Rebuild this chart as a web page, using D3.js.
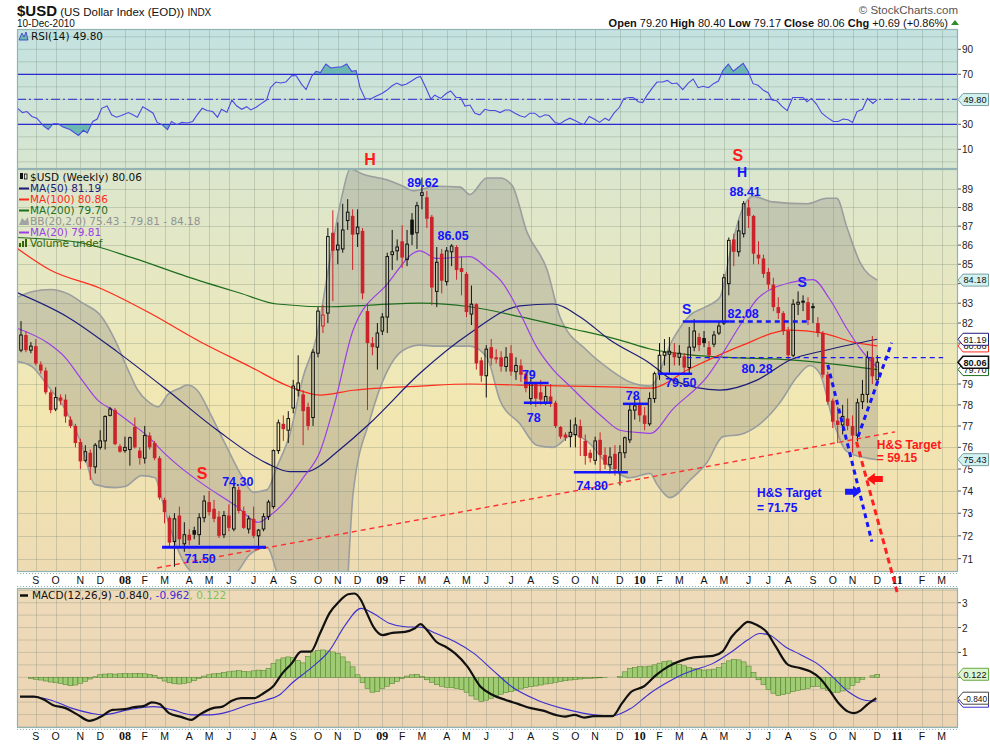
<!DOCTYPE html>
<html>
<head>
<meta charset="utf-8">
<script src="https://d3js.org/d3.v7.min.js"></script>
<style>
  body { margin: 0; background: #fff; }
  svg { display: block; }
  text { font-family: "Liberation Sans", Arial, sans-serif; }
  .leg { font-family: "DejaVu Sans", sans-serif; font-size: 10.5px; }
</style>
</head>
<body>
<div id="chart"></div>
<script>
// ---- weekly candles, Aug 17 2007 .. Dec 10 2010 (174 weeks) ----
const openV = [80.65,81.4,80.65,80.85,79.95,79.65,78.6,77.8,78.35,78.25,
 77.3,77.0,76.25,75.4,75.75,75.1,76.0,76.3,77.5,77.75,
 76.05,75.85,75.9,76.95,75.85,75.5,76.55,76.2,75.5,73.6,
 72.8,71.75,72.9,71.65,72.05,72.25,72.05,72.8,73.5,73.2,
 72.85,72.05,72.9,72.3,74.05,73.1,72.3,72.75,72.0,72.3,
 72.85,73.3,75.85,77.1,76.8,77.85,78.7,78.5,77.9,77.4,
 80.5,81.85,82.5,86.65,85.75,85.8,87.3,87.55,86.6,86.75,
 82.6,81.0,80.8,81.6,82.3,85.5,85.7,86.2,85.25,87.35,
 86.65,88.65,88.55,87.5,83.6,85.55,84.1,85.65,85.9,84.8,
 84.5,82.45,82.95,80.15,79.4,80.8,80.3,80.3,79.85,80.5,
 79.6,79.9,79.5,78.3,79.0,78.6,78.1,78.4,78.1,76.95,
 76.6,76.5,76.6,77.0,76.3,75.75,75.4,76.35,75.65,75.2,
 75.7,74.85,75.75,76.35,77.75,78.0,77.5,77.1,78.3,79.5,
 80.4,80.45,80.55,80.3,80.35,79.8,80.8,81.3,81.25,80.8,
 80.95,81.5,82.0,84.0,86.3,85.65,86.6,88.0,87.55,85.5,
 85.3,84.6,83.95,82.8,82.5,81.6,80.4,82.95,83.05,83.05,
 82.85,82.0,81.5,79.45,78.2,77.25,77.05,77.35,77.0,76.55,
 78.15,78.5,80.3,79.2];
const highV = [82.1,81.6,81.05,81.2,80.1,79.8,78.7,78.85,78.5,78.5,
 77.45,77.1,76.4,76.1,75.9,76.2,76.8,77.5,77.9,77.85,
 76.15,76.5,76.5,77.4,76.0,77.0,76.7,76.3,75.6,73.7,
 72.9,73.0,73.3,72.6,72.3,72.4,73.0,73.8,74.0,73.6,
 73.1,73.1,73.4,74.3,74.2,73.3,72.9,73.3,72.3,73.0,
 73.6,75.9,77.3,77.5,77.7,79.2,80.4,78.7,78.1,80.7,
 82.8,82.9,86.9,87.85,87.2,88.2,88.45,87.9,87.9,86.9,
 83.0,81.3,82.0,82.5,85.6,86.8,86.3,87.05,86.8,87.7,
 88.3,89.62,88.9,87.6,85.9,85.8,85.9,86.05,86.0,85.4,
 84.6,83.9,83.0,80.3,80.9,81.2,80.7,80.6,80.8,80.9,
 80.3,80.2,79.6,79.3,79.1,79.2,78.9,79.0,78.2,77.0,
 76.7,77.3,77.4,77.3,76.6,75.9,76.5,76.7,76.0,76.0,
 76.1,76.1,76.5,78.0,78.4,78.3,77.9,78.6,79.6,81.0,
 81.2,81.3,81.0,80.9,80.5,81.8,82.2,81.5,81.6,81.1,
 81.6,82.1,84.5,86.4,86.6,87.3,88.35,88.41,87.6,86.2,
 85.5,84.8,84.3,83.3,82.6,81.8,83.2,83.6,83.4,83.3,
 83.0,82.3,81.6,79.6,78.3,77.9,78.0,78.3,77.5,78.3,
 79.2,80.6,81.35,80.4];
const lowV = [80.55,80.55,80.5,79.9,79.5,78.5,77.6,77.7,78.0,77.15,
 76.9,76.0,75.0,75.3,74.5,74.8,75.9,75.9,77.45,76.1,
 75.75,75.75,75.15,75.95,75.2,75.25,75.9,75.4,73.6,72.55,
 71.55,70.65,71.5,71.3,71.6,71.85,71.6,72.6,72.9,72.6,
 71.9,71.9,72.2,72.2,73.0,72.3,72.1,71.9,71.4,72.2,
 72.7,73.2,75.7,76.3,76.2,77.6,78.4,76.1,76.8,77.0,
 80.3,81.5,82.0,83.1,85.0,85.6,86.8,84.7,85.9,83.2,
 77.75,80.4,79.7,81.4,81.5,84.7,85.2,84.8,84.9,86.0,
 85.8,87.9,86.9,82.9,82.8,83.5,83.9,84.9,84.2,83.4,
 82.3,81.9,79.7,79.1,78.35,79.9,80.0,79.6,79.6,79.4,
 79.2,79.1,78.6,78.0,77.9,78.0,78.0,77.9,76.9,76.4,
 76.3,76.0,76.0,75.6,75.2,75.3,75.2,74.9,75.0,74.8,
 74.7,74.25,75.5,76.2,77.3,77.2,76.8,77.0,78.1,79.2,
 79.9,79.5,79.9,79.9,79.5,79.5,80.6,80.6,80.8,80.2,
 80.8,81.4,81.9,83.4,84.9,85.4,86.4,86.9,85.0,85.0,
 84.3,83.7,82.6,82.2,81.4,80.2,80.3,82.4,82.6,81.9,
 82.0,81.3,79.3,78.0,76.9,76.2,76.6,76.8,75.75,76.3,
 77.8,78.1,79.0,79.17];
const closeV = [81.4,80.65,80.85,80.0,79.65,78.6,77.75,78.35,78.2,77.45,
 77.0,76.2,75.35,75.8,75.1,76.1,76.3,77.45,77.8,76.15,
 75.8,76.0,76.45,76.0,75.5,76.55,76.0,75.5,73.7,73.05,
 71.7,72.75,71.85,72.05,71.8,72.05,72.8,73.55,73.05,72.75,
 72.0,72.9,72.35,74.15,73.1,72.35,72.75,72.0,72.25,72.85,
 73.5,75.85,77.15,76.85,77.35,78.9,79.05,77.7,77.0,80.55,
 82.6,82.4,86.45,85.7,86.0,86.8,87.75,86.55,86.95,83.5,
 81.0,80.8,81.5,82.3,85.4,85.65,85.9,85.35,86.05,86.55,
 88.1,88.8,87.4,83.8,85.1,84.15,85.7,85.95,84.7,84.6,
 82.55,82.95,80.0,79.4,80.7,80.25,80.2,79.85,80.3,79.6,
 79.9,79.45,78.8,79.05,78.3,78.25,78.4,78.05,77.0,76.5,
 76.45,76.7,77.05,76.45,75.6,75.5,76.3,75.65,75.2,75.55,
 75.0,75.75,76.45,77.75,77.95,77.5,77.1,78.3,79.5,80.4,
 80.55,80.6,80.3,80.5,79.8,80.8,81.6,80.9,81.0,80.4,
 81.4,81.85,84.3,86.25,85.65,86.75,88.2,87.55,85.55,85.3,
 84.5,83.95,82.8,82.5,81.6,80.4,82.95,83.05,83.1,82.15,
 82.75,81.5,79.45,78.15,77.2,77.05,77.45,77.0,76.55,78.1,
 78.5,80.3,79.37,80.06];

// ---- overlays: [week index, value] ----
const ma50 = [[-0.8,83.54],[9.3,82.32],[19.4,80.58],[29.5,78.71],[39.6,76.81],[49.7,75.26],[54.3,74.88],
 [57.8,74.88],[60.4,75.15],[63.4,75.7],[70.5,77.13],[80.6,79.52],[90.7,81.49],[100.8,82.86],[107.5,82.96],
 [112.9,82.32],[119,81.15],[127.1,80.0],[131.7,79.19],[141.2,78.71],[148.7,79.19],[155.4,80.17],[162.8,80.66],[173,81.19]];
const ma100 = [[-0.8,85.83],[5.9,84.7],[16,83.76],[26.1,82.49],[36.2,81.07],[46.3,79.84],[54.3,78.87],[60.4,78.47],
 [67.1,78.7],[80.6,78.9],[90.7,79.0],[100.8,78.95],[110.9,78.9],[121,78.85],[127.1,78.8],[135.2,79.75],
 [145.3,80.85],[155.4,81.65],[162,81.5],[168.1,81.05],[173,80.86]];
const ma200 = [[-0.8,86.4],[11.5,86.15],[22.6,85.33],[33.5,84.36],[44.2,83.52],[51.7,82.96],[62.4,82.82],
 [80.6,83.0],[90.7,82.82],[100.8,82.32],[110.9,81.74],[121,81.15],[127.1,80.71],[135.2,80.42],
 [145.3,80.27],[155.4,80.17],[165.5,79.93],[173,79.7]];
const ma20 = [[-0.8,81.74],[5.45,81.0],[8.9,80.3],[12.3,79.2],[15.6,78.2],[19.0,77.7],[22.4,77.1],[25.7,76.5],
 [29.1,75.7],[32.1,75.1],[36.8,74.3],[43.6,73.3],[47.9,72.6],[50.3,72.9],[53.7,73.6],[57,74.6],[60.4,75.8],
 [63.4,78.1],[67.1,81.65],[73.9,83.95],[80.6,85.7],[84,85.3],[90.7,85.4],[94.1,84.8],[97.4,84.0],[100.8,82.5],
 [104.2,80.8],[107.5,79.7],[110.9,78.9],[114.3,78.1],[117.6,77.4],[121,76.8],[124.4,76.7],[127.1,76.65],
 [131.7,77.8],[138.6,79.35],[145.3,81.9],[148.7,83.2],[155.4,84.05],[160,84.2],[163.4,83.2],[166.9,81.7],
 [170.1,80.55],[173,79.81]];
const bbUpper = [[-0.8,83.3],[2.4,83.6],[5.9,83.7],[9.3,83.5],[12.5,83.0],[16,82.4],[19,81.15],[21.6,79.7],
 [23.6,78.7],[25.7,78.15],[27.7,77.9],[29.7,78.5],[32.1,78.8],[33.5,78.95],[35.6,78.7],[38.2,77.6],[41.6,76.0],
 [44.8,74.6],[46.9,73.95],[49.7,74.05],[51.7,75.1],[54.3,76.6],[57,79.35],[59.8,81.4],[61.8,84.3],[63.4,86.7],
 [65,88.8],[66.5,90.1],[69.1,89.8],[73.9,89.5],[77.2,89.15],[79.2,88.9],[84,89.15],[88.7,89.1],[90.7,88.7],
 [94.1,89.6],[96.8,89.6],[99.2,89.2],[102.2,86.7],[106.3,84.7],[108.9,82.3],[114.3,80.65],[119,79.7],
 [123,79.1],[127.1,78.9],[131.7,81.2],[135.2,82.4],[138.2,82.8],[141.2,83.3],[143.2,85.5],[145.3,87.6],
 [147.9,88.6],[151.9,88.3],[158.8,88.2],[162.8,88.5],[164.8,88.5],[166.9,86.9],[169.5,85.1],[173,84.18]];
const bbLower = [[-0.8,80.1],[2.2,79.85],[5.45,78.9],[8.9,77.8],[12.3,76.1],[14.9,74.3],[19,74.15],[21,74.2],
 [24.4,74.7],[27.1,74.6],[28.5,73.6],[30.5,72.1],[32.1,71.2],[34.1,70.5],[36.2,70.3],[42.8,70.3],[46.3,71.2],
 [49.7,71.5],[51.7,70.4],[54.3,68.6],[58.3,66.5],[62.4,65.5],[65.5,68.5],[67.1,73.9],[70.5,77.3],[77.2,80.65],
 [80.6,80.9],[84,80.85],[90.7,80.85],[94.1,80.3],[96.8,78.2],[100.8,77.1],[104.2,76.1],[107.5,76.0],[111.5,76.6],
 [114.3,76.3],[119,75.1],[123,74.6],[127.1,74.8],[128.5,74.3],[131.1,73.7],[135.2,74.5],[138.6,75.3],
 [141.8,76.5],[145.3,76.6],[149.3,77.1],[153.3,78.1],[156.8,79.35],[159.4,79.9],[161.4,79.5],[164,77.3],
 [166.9,75.8],[170.9,75.5],[173,75.43]];

const rsi = [[-0.9,43.6],[0.3,39.4],[1.2,40.2],[2.2,36.3],[3.2,34.9],[4.5,28.9],[5.5,25.8],[6.5,30.5],[7.5,30.5],
 [8.5,27.9],[9.9,25.8],[11.6,21.1],[12.6,25.2],[13.4,23.1],[14.5,32.3],[15.4,34.2],[16.3,42.8],[17.4,44.6],
 [18.3,37.6],[19.3,35.7],[20.3,37.0],[21.7,39.4],[22.6,37.6],[23.5,35.7],[24.6,44.1],[25.7,41.5],[26.7,38.9],
 [27.5,31.5],[28.5,29.7],[29.6,25.8],[30.4,32.3],[31.5,29.7],[32.5,31.5],[33.6,31.0],[34.7,32.3],[35.6,37.6],
 [36.6,42.8],[37.6,41.0],[38.7,40.2],[39.7,35.7],[40.5,42.0],[41.6,39.6],[42.6,49.4],[43.6,44.6],[44.6,42.0],
 [45.6,44.1],[46.4,41.5],[47.5,43.6],[48.6,46.7],[49.6,49.4],[50.4,59.3],[51.5,63.8],[52.5,63.0],[53.5,63.8],
 [54.7,69.0],[55.6,68.8],[56.7,62.0],[57.6,57.8],[58.7,68.3],[59.6,72.4],[60.5,71.4],[61.6,78.2],[62.6,75.1],
 [63.6,75.6],[64.8,76.1],[65.8,78.2],[66.8,72.4],[67.7,73.0],[68.5,59.3],[69.5,50.7],[70.6,50.2],[71.7,52.5],
 [72.9,54.6],[73.9,57.2],[74.9,60.6],[75.9,63.0],[76.9,61.2],[77.8,62.0],[78.9,64.6],[79.9,67.2],[80.7,68.3],
 [81.8,59.3],[82.8,50.2],[83.6,53.3],[84.8,50.7],[85.9,54.6],[86.8,56.7],[87.9,51.5],[88.8,51.5],[89.7,44.6],
 [90.7,45.4],[91.7,38.9],[92.7,37.6],[93.7,42.0],[94.7,41.0],[95.8,41.0],[96.8,39.4],[97.8,41.5],[98.7,41.5],
 [99.8,38.9],[100.8,36.8],[101.8,35.7],[102.8,38.9],[103.8,38.9],[104.8,35.7],[105.9,37.6],[106.7,37.0],
 [107.9,31.5],[108.9,30.5],[109.9,33.0],[110.9,34.9],[111.9,33.0],[112.9,31.0],[113.7,29.7],[114.8,36.3],
 [115.8,34.2],[116.9,31.5],[118.0,34.9],[118.8,33.0],[119.8,38.9],[120.9,43.6],[121.8,50.7],[122.9,51.5],
 [123.7,51.5],[124.7,48.1],[125.6,47.4],[126.5,53.3],[127.6,59.3],[128.5,63.8],[129.6,63.8],[130.6,65.1],
 [131.5,62.5],[132.5,63.0],[133.7,57.8],[134.8,63.0],[135.8,66.2],[136.8,59.3],[137.8,60.4],[138.9,59.3],
 [139.9,62.5],[140.9,64.6],[141.8,73.0],[142.9,78.2],[143.9,72.4],[144.9,75.6],[145.9,78.7],[146.9,72.4],
 [147.9,62.5],[148.9,61.2],[150.0,57.2],[151.0,55.1],[151.7,49.4],[152.7,48.8],[153.7,44.6],[154.8,41.0],
 [155.9,51.5],[157.0,51.5],[158.0,51.5],[158.8,48.1],[159.7,50.7],[160.7,46.2],[161.8,38.9],[162.8,35.7],
 [164.1,32.3],[165.1,32.3],[166.1,34.2],[167.1,33.6],[168.0,31.5],[168.9,40.2],[170.0,42.0],[171.0,50.7],
 [172.1,46.7],[173.0,49.8]];

const macdLine = [[-0.2,-0.78],[2.6,-0.78],[4.5,-0.88],[6.4,-1.11],[9.0,-1.24],[11.5,-1.51],[13.8,-1.75],[16.0,-1.60],
 [18.5,-1.31],[21.0,-1.28],[22.9,-1.20],[24.9,-1.15],[26.4,-1.01],[28.0,-1.07],[29.9,-1.44],[32.5,-1.60],
 [34.4,-1.71],[36.3,-1.47],[38.8,-1.24],[40.7,-1.18],[42.6,-0.94],[44.5,-0.84],[47.1,-0.84],[49.0,-0.64],
 [50.9,-0.37],[52.8,0.16],[54.7,0.56],[56.6,1.03],[58.5,1.03],[60.4,1.76],[62.3,2.57],[64.2,3.03],[66.1,3.34],
 [67.4,3.37],[68.7,3.10],[69.9,2.57],[71.2,2.03],[73.1,1.70],[75.0,1.79],[77.6,1.83],[79.5,1.96],[80.7,2.14],
 [82.0,1.90],[83.9,1.43],[85.8,1.23],[87.7,0.96],[90.2,0.43],[92.8,-0.37],[95.3,-0.71],[97.9,-0.91],[100.4,-1.07],
 [103.0,-1.24],[105.5,-1.34],[108.0,-1.51],[109.9,-1.58],[111.8,-1.51],[113.8,-1.62],[115.7,-1.56],[117.6,-1.56],
 [119.5,-1.56],[121.4,-1.05],[123.3,-0.58],[125.8,-0.37],[128.3,0.09],[130.9,0.45],[133.4,0.67],[136.0,0.80],
 [137.9,0.83],[139.8,0.86],[141.7,1.03],[143.6,1.63],[145.5,2.03],[146.8,2.23],[148.7,2.10],[150.6,1.83],
 [152.5,1.23],[155.0,0.50],[157.6,0.36],[159.5,0.23],[161.4,-0.04],[163.3,-0.51],[165.2,-1.04],[167.1,-1.38],
 [168.3,-1.44],[169.6,-1.34],[170.9,-1.11],[172.8,-0.84]];
const macdSignal = [[-0.2,-0.78],[2.6,-0.78],[6.4,-0.94],[10.2,-1.24],[14.0,-1.44],[16.5,-1.51],[21.6,-1.31],
 [26.8,-1.18],[30.6,-1.31],[34.4,-1.51],[38.2,-1.51],[42.0,-1.38],[45.8,-1.11],[49.6,-0.91],[52.2,-0.71],
 [54.7,-0.24],[58.5,0.36],[62.3,1.07],[65.5,2.10],[68.7,2.77],[71.2,2.57],[74.4,2.17],[77.6,2.03],[80.7,2.01],
 [83.9,1.76],[87.7,1.43],[91.5,0.96],[95.3,0.29],[99.1,-0.37],[104.2,-0.91],[110.6,-1.31],[115.7,-1.51],
 [119.5,-1.55],[123.3,-1.24],[127.1,-0.64],[130.9,-0.17],[133.4,0.09],[136.0,0.29],[139.8,0.56],[143.6,1.03],
 [146.8,1.50],[149.3,1.76],[151.2,1.70],[154.4,1.23],[157.6,0.90],[160.8,0.56],[163.9,0.03],[167.1,-0.57],
 [170.3,-0.91],[172.8,-0.96]];
const macdHist = [0,0,-0.05,-0.08,-0.11,-0.15,-0.19,-0.22,-0.25,-0.30,
 -0.34,-0.31,-0.24,-0.16,-0.07,0.02,0.10,0.13,0.14,0.13,
 0.14,0.15,0.14,0.15,0.16,0.14,0.12,0.08,-0.05,-0.15,
 -0.22,-0.26,-0.27,-0.25,-0.2,-0.14,-0.05,0.05,0.1,0.14,
 0.16,0.2,0.22,0.25,0.27,0.24,0.22,0.26,0.29,0.28,
 0.36,0.56,0.70,0.78,0.82,0.80,0.68,0.58,0.84,1.02,
 1.08,1.1,1.06,1.02,0.95,0.82,0.62,0.42,0.1,-0.22,
 -0.45,-0.6,-0.57,-0.45,-0.36,-0.26,-0.17,-0.05,0.05,0.1,
 0.12,0.04,-0.1,-0.2,-0.3,-0.36,-0.4,-0.42,-0.45,-0.5,
 -0.6,-0.75,-0.88,-0.98,-0.92,-0.85,-0.75,-0.68,-0.62,-0.58,
 -0.52,-0.47,-0.42,-0.38,-0.35,-0.31,-0.27,-0.24,-0.2,-0.17,
 -0.14,-0.11,-0.09,-0.07,-0.05,-0.04,-0.03,-0.02,-0.01,0,
 0,0.03,0.22,0.35,0.4,0.43,0.42,0.45,0.5,0.57,
 0.63,0.66,0.6,0.52,0.46,0.4,0.35,0.32,0.29,0.3,
 0.33,0.4,0.55,0.66,0.72,0.7,0.62,0.45,0.2,-0.1,
 -0.3,-0.5,-0.64,-0.74,-0.7,-0.64,-0.58,-0.52,-0.48,-0.44,
 -0.38,-0.36,-0.44,-0.52,-0.6,-0.6,-0.55,-0.47,-0.33,-0.2,
 -0.08,0,0.06,0.122];

const priceTicks = d3.range(71, 90);
const rsiTicks = [90, 70, 30, 10];
const macdTicks = [3, 2, 1, 0, -1];
const monthLetters = "JFMAMJJASOND";
// last-value tags on the right axes
const priceTags = [[84.18, "#d2f2f2", "#7aa0a0"], [75.43, "#d2f2f2", "#7aa0a0"], [80.86, "#fff", "#ff2a1a"],
  [81.19, "#fff", "#1c1c7a"], [79.70, "#fff", "#1e6e1e"], [80.06, "#fff", "#111"]];
const macdTags = [[0.122, "#dff5d0", "#66aa44"], [-0.840, "#fff", "#444"]];

// ---- layout ----
const W = 990, H = 744, L = 17, R = 958;
const rsiTop = 29, rsiBot = 169, pTop = 169, pBot = 572, mTop = 588, mBot = 728;
const RED = "#cc2229", BLUE = "#1414ff";

const t0 = Date.UTC(2007, 7, 17);
const wk = n => new Date(t0 + n * 7 * 86400000);
const x = d3.scaleUtc().domain([wk(0), wk(173)]).range([21, 877.3]);
const xw = n => x(wk(n));
const yP = d3.scaleLog().domain([71, 89]).range([558.7, 189]);
const yR = d3.scaleLinear().domain([30, 70]).range([124.3, 74.3]);
const yM = d3.scaleLinear().domain([0, 3]).range([677.3, 602.7]);

const svg = d3.select("#chart").append("svg").attr("width", W).attr("height", H);
const defs = svg.append("defs");

function grad(id, y1, y2, stops) {
  const g = defs.append("linearGradient").attr("id", id)
    .attr("gradientUnits", "userSpaceOnUse").attr("x1", 0).attr("x2", 0).attr("y1", y1).attr("y2", y2);
  stops.forEach(s => g.append("stop").attr("offset", s[0]).attr("stop-color", s[1]));
}
grad("gR", rsiTop, rsiBot, [[0, "#c3e2e1"], [1, "#d8e6cf"]]);
grad("gP", pTop, pBot, [[0, "#dbe6cd"], [0.35, "#e9e8bf"], [0.6, "#f2e7b1"], [1, "#eedbb3"]]);
grad("gM", mTop, mBot, [[0, "#eedab9"], [1, "#ebd4b4"]]);

function clip(id, y1, y2) {
  defs.append("clipPath").attr("id", id).append("rect")
    .attr("x", L).attr("y", y1).attr("width", R - L).attr("height", y2 - y1);
}
clip("cR", rsiTop, rsiBot);
clip("cP", pTop, pBot);
clip("cM", mTop, mBot);
defs.append("clipPath").attr("id", "cHi").append("rect").attr("x", L).attr("y", rsiTop).attr("width", R - L).attr("height", yR(70) - rsiTop);
defs.append("clipPath").attr("id", "cLo").append("rect").attr("x", L).attr("y", yR(30)).attr("width", R - L).attr("height", rsiBot - yR(30));

// backgrounds
svg.append("rect").attr("x", L).attr("y", rsiTop).attr("width", R - L).attr("height", rsiBot - rsiTop).attr("fill", "url(#gR)");
svg.append("rect").attr("x", L).attr("y", pTop).attr("width", R - L).attr("height", pBot - pTop).attr("fill", "url(#gP)");
svg.append("rect").attr("x", L).attr("y", mTop).attr("width", R - L).attr("height", mBot - mTop).attr("fill", "url(#gM)");

// month ticks: first weekly bar whose week starts inside the month
const months = [];
for (let yr = 2007; yr <= 2011; yr++) {
  for (let m = 0; m < 12; m++) {
    const d = d3.utcFriday.ceil(new Date(Date.UTC(yr, m, 5)));
    const xx = x(d);
    if (xx > L + 3 && xx < R - 3) months.push({ xx, m, yr });
  }
}

const gridCol = "rgba(110,130,110,0.28)";
const grid = svg.append("g").attr("stroke", gridCol).attr("stroke-width", 1);
[[rsiTop, rsiBot], [pTop, pBot], [mTop, mBot]].forEach(([a, b]) => {
  grid.selectAll(null).data(months).join("line")
    .attr("x1", d => Math.round(d.xx) + 0.5).attr("x2", d => Math.round(d.xx) + 0.5)
    .attr("y1", a).attr("y2", b);
});
grid.selectAll(null).data(d3.range(0, 101, 10)).join("line")
  .attr("x1", L).attr("x2", R).attr("y1", d => yR(d)).attr("y2", d => yR(d));
grid.selectAll(null).data(priceTicks).join("line")
  .attr("x1", L).attr("x2", R).attr("y1", d => Math.round(yP(d)) + 0.5).attr("y2", d => Math.round(yP(d)) + 0.5);
grid.selectAll(null).data(d3.range(-2, 3.6, 0.5)).join("line")
  .attr("x1", L).attr("x2", R).attr("y1", d => yM(d)).attr("y2", d => yM(d));

// ---- RSI panel ----
const gR = svg.append("g").attr("clip-path", "url(#cR)");
const rsiLine = d3.line().x(d => xw(d[0])).y(d => yR(d[1]));
gR.append("path").datum(rsi).attr("clip-path", "url(#cHi)").attr("fill", "#6db7b3")
  .attr("d", d3.area().x(d => xw(d[0])).y0(yR(70)).y1(d => yR(d[1])));
gR.append("path").datum(rsi).attr("clip-path", "url(#cLo)").attr("fill", "#6db7b3")
  .attr("d", d3.area().x(d => xw(d[0])).y0(yR(30)).y1(d => yR(d[1])));
gR.append("line").attr("x1", L).attr("x2", R).attr("y1", yR(70)).attr("y2", yR(70)).attr("stroke", "#2a2ad0").attr("stroke-width", 1.2);
gR.append("line").attr("x1", L).attr("x2", R).attr("y1", yR(30)).attr("y2", yR(30)).attr("stroke", "#2a2ad0").attr("stroke-width", 1.2);
gR.append("line").attr("x1", L).attr("x2", R).attr("y1", yR(50)).attr("y2", yR(50)).attr("stroke", "#2a2ad0")
  .attr("stroke-width", 1).attr("stroke-dasharray", "9,3,2,3");
gR.append("path").datum(rsi).attr("fill", "none").attr("stroke", "#4a4ae0").attr("stroke-width", 1.1).attr("d", rsiLine);

// ---- price panel ----
const gP = svg.append("g").attr("clip-path", "url(#cP)");
const pl = d3.line().x(d => xw(d[0])).y(d => yP(d[1])).curve(d3.curveMonotoneX);
const upPath = pl(bbUpper);
const loPath = pl(bbLower.slice().reverse());
gP.append("path").attr("d", upPath + "L" + loPath.slice(1) + "Z").attr("fill", "rgba(120,120,120,0.28)");
gP.append("path").attr("d", upPath).attr("fill", "none").attr("stroke", "#9a9e9e").attr("stroke-width", 1.6);
gP.append("path").attr("d", pl(bbLower)).attr("fill", "none").attr("stroke", "#9a9e9e").attr("stroke-width", 1.6);

[[ma200, "#1e6e1e"], [ma100, "#ff2a1a"], [ma50, "#1c1c7a"], [ma20, "#9a3fe6"]].forEach(([s, c]) => {
  gP.append("path").datum(s).attr("fill", "none").attr("stroke", c).attr("stroke-width", 1.2).attr("d", pl);
});

// candles
const bw = 3.6;
const candles = gP.append("g").selectAll("g").data(d3.range(openV.length)).join("g");
candles.each(function (i) {
  const g = d3.select(this);
  const o = openV[i], c = closeV[i], h = highV[i], l = lowV[i];
  const col = (i > 0 && c < closeV[i - 1]) ? RED : "#111";
  const filled = c < o;
  const cx = xw(i);
  const top = yP(Math.max(o, c)), bot = yP(Math.min(o, c));
  if (filled) {
    g.append("line").attr("x1", cx).attr("x2", cx).attr("y1", yP(h)).attr("y2", yP(l)).attr("stroke", col).attr("stroke-width", 1);
    g.append("rect").attr("x", cx - bw / 2).attr("y", top).attr("width", bw).attr("height", Math.max(1, bot - top)).attr("fill", col);
  } else {
    g.append("line").attr("x1", cx).attr("x2", cx).attr("y1", yP(h)).attr("y2", top).attr("stroke", col).attr("stroke-width", 1);
    g.append("line").attr("x1", cx).attr("x2", cx).attr("y1", bot).attr("y2", yP(l)).attr("stroke", col).attr("stroke-width", 1);
    g.append("rect").attr("x", cx - bw / 2 + 0.5).attr("y", top).attr("width", bw - 1).attr("height", Math.max(1, bot - top))
      .attr("fill", "none").attr("stroke", col).attr("stroke-width", 1);
  }
});

// ---- MACD panel ----
const gM = svg.append("g").attr("clip-path", "url(#cM)");
gM.append("g").selectAll("rect").data(macdHist).join("rect")
  .attr("x", (d, i) => xw(i) - 2.45).attr("width", 4.9)
  .attr("y", d => Math.min(yM(d), yM(0))).attr("height", d => Math.abs(yM(d) - yM(0)))
  .attr("fill", "#9fcc72").attr("stroke", "#4c7a2a").attr("stroke-width", 0.5);
const ml = d3.line().x(d => xw(d[0])).y(d => yM(d[1])).curve(d3.curveMonotoneX);
gM.append("path").datum(macdSignal).attr("fill", "none").attr("stroke", "#3b2fd0").attr("stroke-width", 1.1).attr("d", ml);
gM.append("path").datum(macdLine).attr("fill", "none").attr("stroke", "#111").attr("stroke-width", 2.2).attr("d", ml);

// ---- borders & axis strips ----
const border = "#93b2b2";
[[rsiTop, rsiBot], [pTop, pBot], [mTop, mBot]].forEach(([a, b]) => {
  svg.append("rect").attr("x", L + 0.5).attr("y", a + 0.5).attr("width", R - L - 1).attr("height", b - a - 1)
    .attr("fill", "none").attr("stroke", border).attr("stroke-width", 1.2);
});
[pBot + 1.5, mTop - 1.5, mBot + 1.5].forEach(yy => {
  svg.append("line").attr("x1", L).attr("x2", R).attr("y1", yy).attr("y2", yy)
    .attr("stroke", border).attr("stroke-dasharray", "1,2");
});

// month labels
[584, 740].forEach(yy => {
  svg.append("g").selectAll("text").data(months).join("text")
    .attr("x", d => d.xx).attr("y", yy).attr("text-anchor", "middle")
    .style("font-size", d => d.m === 0 ? "12px" : "10.5px")
    .style("font-weight", d => d.m === 0 ? "bold" : "normal")
    .style("font-family", d => d.m === 0 ? '"Liberation Serif", serif' : null)
    .attr("fill", "#111")
    .text(d => d.m === 0 ? String(d.yr % 100).padStart(2, "0") : monthLetters[d.m]);
});

// right axes (tick labels hidden where a value tag sits on top, as in the original)
function rightLabels(ticks, scale, tagVals) {
  const g = svg.append("g");
  g.selectAll("line").data(ticks).join("line").attr("x1", R).attr("x2", R + 3)
    .attr("y1", d => scale(d)).attr("y2", d => scale(d)).attr("stroke", "#555");
  const shown = ticks.filter(t => tagVals.every(v => Math.abs(scale(t) - scale(v)) > 7.5));
  g.selectAll("text").data(shown).join("text").attr("x", R + 4).attr("y", d => scale(d) + 4)
    .style("font-size", "10px").attr("fill", "#222").text(d => d);
}
rightLabels(priceTicks, yP, priceTags.map(d => d[0]));
rightLabels(rsiTicks, yR, [49.8]);
rightLabels(macdTicks, yM, macdTags.map(d => d[0]));

function tag(yy, txt, fill, stroke, bold) {
  const g = svg.append("g");
  g.append("path").attr("d", `M${R},${yy} L${R + 5},${yy - 6} L${R + 30.5},${yy - 6} L${R + 30.5},${yy + 6} L${R + 5},${yy + 6} Z`)
    .attr("fill", fill).attr("stroke", stroke).attr("stroke-width", bold ? 1.6 : 1);
  if (txt) g.append("text").attr("x", R + 5.5).attr("y", yy + 3.4).style("font-size", "9.5px")
    .style("font-weight", bold ? "bold" : "normal").attr("fill", "#111")
    .attr("textLength", txt.length > 5 ? 23.5 : 23).attr("lengthAdjust", "spacingAndGlyphs").text(txt);
}
priceTags.forEach(t => tag(yP(t[0]), t[0].toFixed(2), t[1], t[2], t[0] === 80.06));
tag(yR(49.8), "49.80", "#d2f2f2", "#7aa0a0");
tag(yM(-0.962), "", "#fff", "#3b2fd0");
macdTags.forEach(t => tag(yM(t[0]), t[0].toFixed(3), t[1], t[2]));

// ---- header texts ----
const title = svg.append("text").attr("x", 17).attr("y", 16).attr("fill", "#111");
title.append("tspan").style("font-size", "15px").style("font-weight", "bold").text("$USD");
title.append("tspan").style("font-size", "11.5px").text(" (US Dollar Index (EOD)) ");
title.append("tspan").style("font-size", "10px").text(" INDX");
svg.append("text").attr("x", 17).attr("y", 27).style("font-size", "10px").attr("fill", "#111").text("10-Dec-2010");
svg.append("text").attr("x", 958).attr("y", 14).attr("text-anchor", "end")
  .style("font-size", "11.5px").attr("fill", "#555").text("\u00A9 StockCharts.com");
const info = svg.append("text").attr("x", 948).attr("y", 27).attr("text-anchor", "end").style("font-size", "11px").attr("fill", "#111");
[["Open", "79.20"], ["High", "80.40"], ["Low", "79.17"], ["Close", "80.06"], ["Chg", "+0.69 (+0.86%)"]].forEach((p, i) => {
  info.append("tspan").style("font-weight", "bold").text((i ? "  " : "") + p[0] + " ");
  info.append("tspan").text(p[1]);
});
svg.append("path").attr("d", "M951,25 L955,20 L959,25 Z").attr("fill", "#2e8b2e");

// RSI legend
svg.append("path").attr("d", "M19,40 L22,33 L24,37 L26,32 L28,40 Z").attr("fill", "#6db7b3").attr("stroke", "#3333cc").attr("stroke-width", 0.8);
svg.append("text").attr("class", "leg").attr("x", 31).attr("y", 40).attr("fill", "#111").text("RSI(14) 49.80");

// price legend
const legItems = [
  ["$USD (Weekly) 80.06", "#111", "candle"],
  ["MA(50) 81.19", "#1c1c7a", "dash"],
  ["MA(100) 80.86", "#ff2a1a", "dash"],
  ["MA(200) 79.70", "#1e6e1e", "dash"],
  ["BB(20,2.0) 75.43 - 79.81 - 84.18", "#8f9494", "band"],
  ["MA(20) 79.81", "#9a3fe6", "dash"],
  ["Volume undef", "#336600", "vol"]
];
legItems.forEach((it, i) => {
  const yy = 181 + i * 11;
  if (it[2] === "dash") svg.append("line").attr("x1", 19).attr("x2", 29).attr("y1", yy - 3.5).attr("y2", yy - 3.5).attr("stroke", it[1]).attr("stroke-width", 2);
  if (it[2] === "candle") {
    svg.append("rect").attr("x", 20).attr("y", yy - 8).attr("width", 3).attr("height", 6).attr("fill", "#111");
    svg.append("rect").attr("x", 24.5).attr("y", yy - 7).attr("width", 2.5).attr("height", 5).attr("fill", "none").attr("stroke", "#111").attr("stroke-width", 0.8);
  }
  if (it[2] === "band") svg.append("path").attr("d", `M19,${yy} L22,${yy - 7} L25,${yy - 4} L28,${yy - 8} L29,${yy} Z`).attr("fill", "#a0a4a4");
  if (it[2] === "vol") [19, 22, 25].forEach((bx, k) => svg.append("rect").attr("x", bx).attr("y", yy - 4 - k * 2).attr("width", 2).attr("height", 4 + k * 2).attr("fill", "#336600"));
  svg.append("text").attr("class", "leg").attr("x", 30).attr("y", yy).attr("fill", it[1]).text(it[0]);
});

// MACD legend
svg.append("line").attr("x1", 20).attr("x2", 28).attr("y1", 595.5).attr("y2", 595.5).attr("stroke", "#111").attr("stroke-width", 2.5);
const mt = svg.append("text").attr("class", "leg").attr("x", 32).attr("y", 599);
mt.append("tspan").attr("fill", "#111").text("MACD(12,26,9) -0.840");
mt.append("tspan").attr("fill", "#3b2fd0").text(", -0.962");
mt.append("tspan").attr("fill", "#7cc35a").text(", 0.122");

// ---- annotations (week index, price) ----
const ann = svg.append("g");
function lab(txt, n, p, col, size, anchor) {
  ann.append("text").attr("x", xw(n)).attr("y", yP(p)).attr("dy", "0.36em")
    .attr("text-anchor", anchor || "middle").style("font-size", size + "px").style("font-weight", "bold")
    .attr("fill", col).text(txt);
}
function seg(n1, p1, n2, p2, col, w, dash) {
  ann.append("line").attr("x1", xw(n1)).attr("y1", yP(p1)).attr("x2", xw(n2)).attr("y2", yP(p2))
    .attr("stroke", col).attr("stroke-width", w).attr("stroke-dasharray", dash || null);
}
// support trend line
seg(27.5, 70.6, 176.6, 76.72, "#ff3030", 1.4, "5,4");
// horizontal levels
seg(28.5, 71.5, 49.5, 71.5, BLUE, 3);
seg(101.6, 79.05, 106.6, 79.05, BLUE, 2.5);
seg(101.6, 78.1, 107.2, 78.1, BLUE, 2.5);
seg(121.6, 78.05, 126.7, 78.05, BLUE, 2.5);
seg(111.7, 74.85, 122.6, 74.85, BLUE, 2.5);
seg(128.7, 79.5, 135.6, 79.5, BLUE, 2.5);
seg(133.7, 82.08, 143.2, 82.08, BLUE, 2.5);
seg(143.2, 82.08, 159.4, 82.08, BLUE, 2.5, "5,4");
seg(134.5, 80.28, 186.3, 80.28, BLUE, 1.3, "5,4");
// target lines
seg(163.0, 79.93, 171.9, 71.74, BLUE, 3, "5,4");
seg(169.1, 76.5, 175.9, 81.02, BLUE, 3, "5,4");
seg(168.8, 76.26, 177.0, 69.57, "#ff2020", 3, "6,4");
// arrows
function arrow(n, p, dir, col) {
  const cx = xw(n), cy = yP(p);
  const d = dir > 0
    ? `M${cx - 8},${cy - 3} L${cx},${cy - 3} L${cx},${cy - 6} L${cx + 8},${cy} L${cx},${cy + 6} L${cx},${cy + 3} L${cx - 8},${cy + 3} Z`
    : `M${cx + 8},${cy - 3} L${cx},${cy - 3} L${cx},${cy - 6} L${cx - 8},${cy} L${cx},${cy + 6} L${cx},${cy + 3} L${cx + 8},${cy + 3} Z`;
  ann.append("path").attr("d", d).attr("fill", col);
}
arrow(168.1, 73.97, 1, "#1a1aff");
arrow(172.5, 74.54, -1, "#ff1010");

lab("H", 70.5, 90.65, "#ff1a1a", 16);
lab("S", 144.8, 90.87, "#ff1a1a", 16);
lab("H", 145.7, 89.93, BLUE, 14);
lab("S", 36.6, 74.82, "#ff1a1a", 16);
lab("74.30", 43.8, 74.41, BLUE, 12.5);
lab("71.50", 36.2, 71.03, BLUE, 12.5);
lab("89.62", 81.2, 89.33, BLUE, 12.5);
lab("86.05", 87.3, 86.48, BLUE, 12.5);
lab("79", 102.6, 79.44, BLUE, 12.5);
lab("78", 103.6, 77.42, BLUE, 12.5);
lab("78", 123.6, 78.43, BLUE, 12.5);
lab("74.80", 115.4, 74.27, BLUE, 12.5);
lab("79.50", 133.3, 79.05, BLUE, 12.5);
lab("S", 134.5, 82.71, BLUE, 14);
lab("82.08", 145.9, 82.5, BLUE, 12.5);
lab("S", 157.8, 84.08, BLUE, 14);
lab("80.28", 148.7, 79.73, BLUE, 12.5);
lab("88.41", 146.3, 88.84, BLUE, 12.5);
lab("H&S Target", 148.7, 73.93, BLUE, 12, "start");
lab("= 71.75", 148.7, 73.26, BLUE, 12, "start");
lab("H&S Target", 172.9, 76.13, "#ff1a1a", 12, "start");
lab("= 59.15", 172.9, 75.52, "#ff1a1a", 12, "start");
</script>
</body>
</html>
